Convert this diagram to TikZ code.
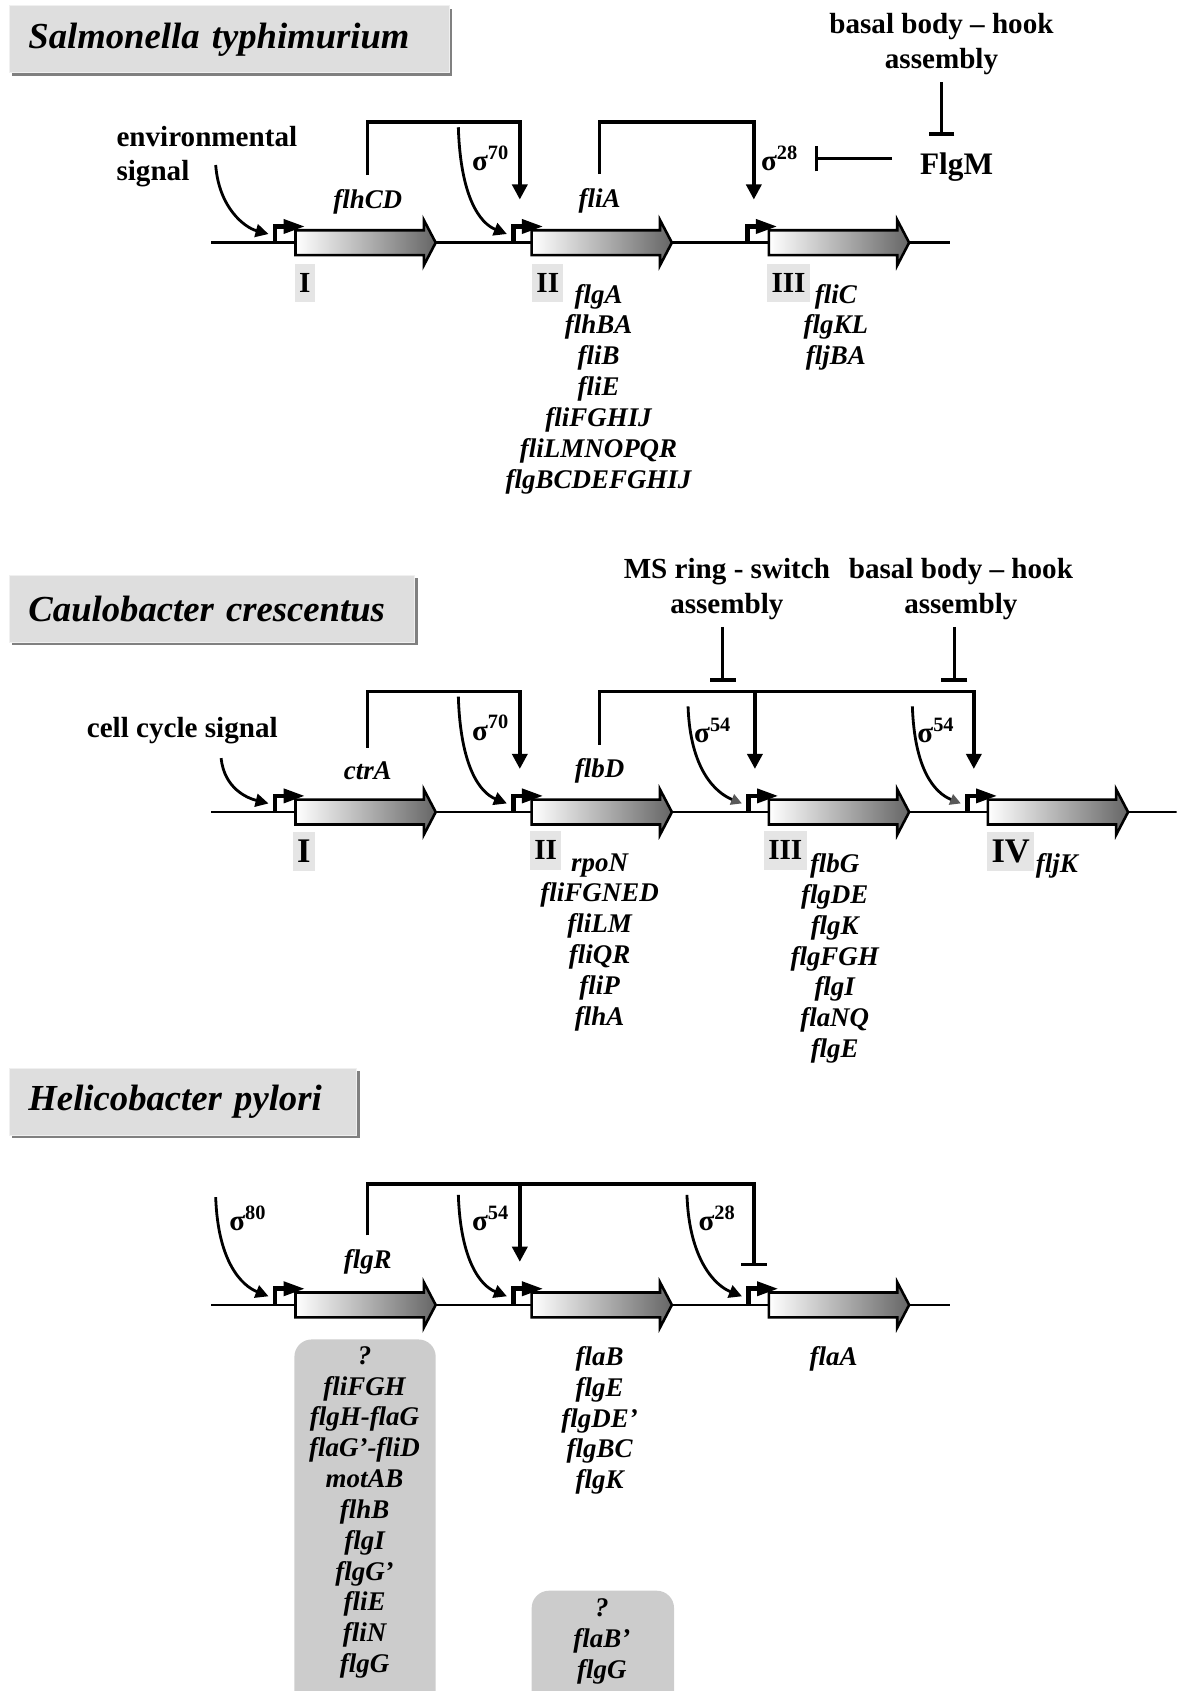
\documentclass[tikz,border=0pt]{standalone}
\usepackage{fontspec}
\setmainfont{Liberation Serif}
\usetikzlibrary{arrows.meta,shadows}

\newcommand\sgm[1]{σ\textsuperscript{#1}}
\newcommand\genefont{\fontsize{12.5}{14.3}\selectfont\bfseries\itshape}
\newcommand\lblfont{\fontsize{13.5}{16}\selectfont\bfseries}

\tikzset{
  gene/.pic={
    \shadedraw[left color=white, right color=black!60, draw=black, line width=1.2pt]
      (0,-11.5) -- (119,-11.5) -- (119,-21) -- (130,0) -- (119,21) -- (119,11.5) -- (0,11.5) -- cycle;
  },
  promoter/.pic={
    \draw[line width=2.2pt] (0,0) -- (0,-15) -- (9,-15);
    \fill (8,-22) -- (27,-15) -- (8,-8) -- cycle;
    \coordinate (-in) at (-6,-8);
    \coordinate (-top) at (6,-40);
    \coordinate (-bar) at (5,-36);
  },
}

\begin{document}
\begin{tikzpicture}[x=0.5pt,y=-0.5pt,
  dna/.style={line width=1.2pt},
  act/.style={line width=1.6pt,-{Triangle[length=7pt,width=7pt]}},
  sig/.style={line width=1.3pt,-{Triangle[length=6pt,width=6pt]}},
  sigb/.style={line width=1.3pt,-{Triangle[length=5pt,width=5pt,color=black!65]}},
  inh/.style={line width=1.6pt,-{Bar[width=12pt]}},
  titlebox/.style={anchor=north west,fill=black!13,draw=black!6,minimum height=31pt,
    inner xsep=9pt,align=left,font=\fontsize{17}{20}\selectfont\bfseries\itshape,
    drop shadow={shadow xshift=1.5pt,shadow yshift=-1.5pt,fill=black!50,opacity=1}},
  numbox/.style={anchor=north west,fill=black!10,minimum height=18pt,inner xsep=2pt,
    inner ysep=0pt,font=\lblfont},
  lbl/.style={font=\lblfont,align=center},
  gname/.style={font=\genefont},
  glist/.style={anchor=north,inner sep=0pt,align=center,font=\genefont}]

  \clip (0,0) rectangle (1091,1568);

  % Salmonella typhimurium
  \node[titlebox,text width=186pt] (tS) at (8,5) {Salmonella typhimurium};
  \draw[dna] (196,225) -- (881,225);
  \pic at (274,225) {gene};
  \pic at (493,225) {gene};
  \pic at (713,225) {gene};
  \pic (pS1) at (255,225) {promoter};
  \pic (pS2) at (476,225) {promoter};
  \pic (pS3) at (693,225) {promoter};
  \node[numbox] (nS1) at (273,244) {I};
  \node[numbox] (nS2) at (493,244) {II};
  \node[numbox] (nS3) at (711,244) {III};

  \node[lbl,anchor=west,align=left] (env) at (101,145) {environmental\\signal};
  \node[gname] (flhCD) at (341,187) {flhCD};
  \node[gname] (fliA) at (556,186) {fliA};
  \node[lbl] (s70S) at (455,147) {\sgm{70}};
  \node[lbl] (s28S) at (723,147) {\sgm{28}};
  \node[lbl] (bb1) at (873,41) {basal body – hook\\assembly};
  \node[font=\fontsize{14.5}{17}\selectfont\bfseries] (flgM) at (887,155) {FlgM};
  \node[glist] (lS2) at (555,263) {flgA\\flhBA\\fliB\\fliE\\fliFGHIJ\\fliLMNOPQR\\flgBCDEFGHIJ};
  \node[glist] (lS3) at (775,263) {fliC\\flgKL\\fljBA};

  \coordinate (topS) at (0,113);
  \coordinate (eS) at (200,153);
  \coordinate (cS) at (425,118);
  \draw[sig] (eS) .. controls +(3,40) and +(-22,-6) .. (pS1-in);
  \draw[sig] (cS) .. controls +(2,65) and +(-25,-10) .. (pS2-in);
  \draw[act,shorten <=3pt] (flhCD.north) |- (pS2-top |- topS) -- (pS2-top);
  \draw[act,shorten <=3pt] (fliA.north) |- (pS3-top |- topS) -- (pS3-top);
  \draw[inh,shorten <=9.5pt,shorten >=4pt] (flgM.west |- s28S.east) -- (s28S.east);
  \draw[inh,shorten >=4.5pt] (bb1.south) -- (bb1.south |- flgM.north);

  % Caulobacter crescentus
  \node[titlebox,text width=170pt] (tC) at (8,533) {Caulobacter crescentus};
  \draw[dna] (196,753) -- (1095,753);
  \pic at (274,753) {gene};
  \pic at (493,753) {gene};
  \pic at (713,753) {gene};
  \pic at (916,753) {gene};
  \pic (pC1) at (255,753) {promoter};
  \pic (pC2) at (476,753) {promoter};
  \pic (pC3) at (694,753) {promoter};
  \pic (pC4) at (897,753) {promoter};
  \node[numbox,font=\fontsize{16}{18}\selectfont\bfseries] (nC1) at (271,771) {I};
  \node[numbox] (nC2) at (491,770) {II};
  \node[numbox] (nC3) at (708,770) {III};
  \node[numbox,font=\fontsize{16}{18}\selectfont\bfseries] (nC4) at (915,771) {IV};

  \node[lbl] (cell) at (169,677) {cell cycle signal};
  \node[gname] (ctrA) at (341,715) {ctrA};
  \node[gname] (flbD) at (556,715) {flbD};
  \node[lbl] (s70C) at (455,675) {\sgm{70}};
  \node[lbl] (s54C3) at (661,677) {\sgm{54}};
  \node[lbl] (s54C4) at (868,677) {\sgm{54}};
  \node[lbl] (ms) at (674,546) {MS ring - switch\\assembly};
  \node[lbl] (bb2) at (891,546) {basal body – hook\\assembly};
  \node[glist] (lC2) at (556,791) {rpoN\\fliFGNED\\fliLM\\fliQR\\fliP\\flhA};
  \node[glist] (lC3) at (774,791) {flbG\\flgDE\\flgK\\flgFGH\\flgI\\flaNQ\\flgE};
  \node[glist] (lC4) at (980,791) {fljK};

  \coordinate (topC) at (0,641);
  \coordinate (barC) at (0,632);
  \coordinate (eC) at (205,703);
  \coordinate (cC) at (425,646);
  \coordinate (dC3) at (638,655);
  \coordinate (dC4) at (846,655);
  \draw[sig] (eC) .. controls +(3,28) and +(-20,-5) .. (pC1-in);
  \draw[sig] (cC) .. controls +(2,65) and +(-25,-10) .. (pC2-in);
  \draw[sigb] (dC3) .. controls +(2,58) and +(-25,-10) .. (pC3-in);
  \draw[sigb] (dC4) .. controls +(2,58) and +(-25,-10) .. (pC4-in);
  \draw[act,shorten <=3pt] (ctrA.north) |- (pC2-top |- topC) -- (pC2-top);
  \draw[act,shorten <=3pt] (flbD.north) |- (pC4-top |- topC) -- (pC4-top);
  \draw[act] (pC3-top |- topC) -- (pC3-top);
  \draw[inh] ([xshift=-2pt]ms.south) -- ([xshift=-2pt]ms.south |- barC);
  \draw[inh] ([xshift=-3pt]bb2.south) -- ([xshift=-3pt]bb2.south |- barC);

  % Helicobacter pylori
  \node[titlebox,text width=143pt] (tH) at (8,990) {Helicobacter pylori};
  \fill[black!20,rounded corners=8pt] (273,1242) rectangle (404,1600);
  \fill[black!20,rounded corners=8pt] (493,1475) rectangle (625,1600);
  \draw[dna] (196,1210) -- (881,1210);
  \pic at (274,1210) {gene};
  \pic at (493,1210) {gene};
  \pic at (713,1210) {gene};
  \pic (pH1) at (255,1210) {promoter};
  \pic (pH2) at (476,1210) {promoter};
  \pic (pH3) at (694,1210) {promoter};

  \node[lbl] (s80H) at (230,1130) {\sgm{80}};
  \node[lbl] (s54H) at (455,1130) {\sgm{54}};
  \node[lbl] (s28H) at (665,1130) {\sgm{28}};
  \node[gname] (flgR) at (341,1170) {flgR};
  \node[glist] (lH1) at (338,1248) {?\\fliFGH\\flgH-flaG\\flaG’-fliD\\motAB\\flhB\\flgI\\flgG’\\fliE\\fliN\\flgG};
  \node[glist] (lH2) at (556,1248) {flaB\\flgE\\flgDE’\\flgBC\\flgK};
  \node[glist] (lH3) at (773,1248) {flaA};
  \node[glist] (lH2b) at (558,1482) {?\\flaB’\\flgG};

  \coordinate (topH) at (0,1098);
  \coordinate (eH1) at (200,1110);
  \coordinate (eH2) at (425,1108);
  \coordinate (eH3) at (637,1108);
  \draw[sig] (eH1) .. controls +(2,60) and +(-25,-10) .. (pH1-in);
  \draw[sig] (eH2) .. controls +(2,60) and +(-25,-10) .. (pH2-in);
  \draw[sig] (eH3) .. controls +(2,60) and +(-25,-10) .. (pH3-in);
  \draw[inh,shorten <=3pt] (flgR.north) |- (pH3-bar |- topH) -- (pH3-bar);
  \draw[act] (pH2-top |- topH) -- (pH2-top);
\end{tikzpicture}
\end{document}
